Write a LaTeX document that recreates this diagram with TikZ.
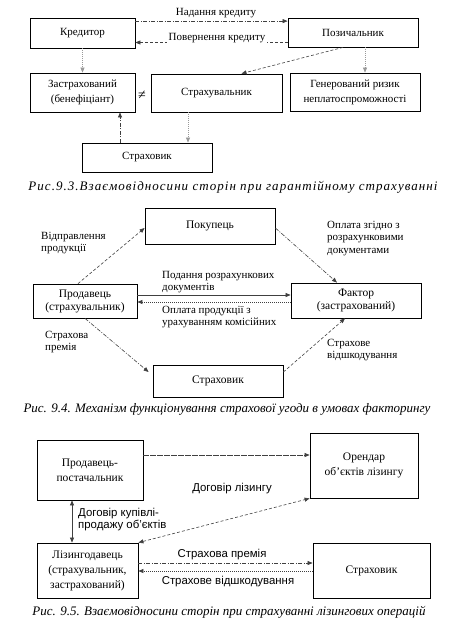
\documentclass[tikz,border=0pt]{standalone}
\usepackage{fontspec}
\setmainfont{Liberation Serif}
\newfontfamily\sansf{Liberation Sans}
\usetikzlibrary{arrows.meta,calc}
\tikzset{
  box/.style={draw=black, line width=0.8pt, align=center, inner sep=0pt, font=\fontsize{11}{15}\selectfont},
  boxb/.style={box, font=\fontsize{11.5}{13}\selectfont},
  boxc/.style={box, font=\fontsize{11.5}{15}\selectfont},
  conn/.style={line width=0.6pt, draw=black!75, -{Triangle[length=5pt,width=4pt]}},
  dconn/.style={conn, {Triangle[length=5pt,width=4pt]}-{Triangle[length=5pt,width=4pt]}},
  dashdotline/.style={dash pattern=on 4pt off 1.5pt on 1pt off 1.5pt},
  dashline/.style={dash pattern=on 3pt off 2pt},
  dotline/.style={dash pattern=on 1pt off 1pt},
  lbl/.style={inner sep=0pt, font=\fontsize{11}{12.5}\selectfont},
  lbll/.style={lbl, align=left, anchor=north west},
  slbl/.style={inner sep=0pt, font=\sansf\fontsize{11.4}{12.5}\selectfont},
  captxt/.style={inner sep=0pt, font=\itshape\fontsize{13}{14}\selectfont},
  captwide/.style={inner sep=0pt, font={\itshape\fontsize{13}{14}\selectfont\addfontfeature{LetterSpace=8}}},
}
\begin{document}
\begin{tikzpicture}[x=1pt,y=-1pt]
\useasboundingbox (0,0) rectangle (450,626);
% ---------------- Fig 9.3
\node[box, minimum width=105pt, minimum height=30pt] (kred) at (82.5,33) {Кредитор};
\node[box, minimum width=130pt, minimum height=29pt] (poz) at (353,32.5) {Позичальник};
\node[box, minimum width=105pt, minimum height=39pt] (zastr) at (82.5,92.5) {Застрахований\\(бенефіціант)};
\node[box, minimum width=131pt, minimum height=38pt] (strv) at (216.5,93) {Страхувальник};
\node[box, minimum width=130pt, minimum height=38pt] (gen) at (355,92) {Генерований ризик\\неплатоспроможності};
\node[box, minimum width=130pt, minimum height=29pt] (strk1) at (147,157.5) {Страховик};
\node[inner sep=0pt, font=\fontsize{14}{14}\selectfont] (ne) at (142,95) {≠};
\coordinate (a1) at ($(kred.north east)+(0,3.5)$);
\draw[conn, dashdotline] (a1) -- (a1 -| poz.west);
\node[lbl] (l1) at (216,13) {Надання кредиту};
\coordinate (a2) at ($(poz.west)+(0,10)$);
\draw[conn, dashline] (a2) -- (a2 -| kred.east);
\node[lbl, fill=white, inner sep=2pt] (l2) at (217,38) {Повернення кредиту};
\coordinate (a3) at ($(kred.south)+(0,0)$);
\draw[conn, dotline, draw=black!40] (a3) -- (a3 |- zastr.north);
\coordinate (a4) at ($(poz.south)+(-10,0)$);
\draw[conn, dashline] (a4) -- ($(strv.north)+(25,0)$);
\coordinate (a5) at ($(poz.south)+(12,0)$);
\draw[conn, dotline, draw=black!40] (a5) -- (a5 |- gen.north);
\coordinate (a6) at ($(zastr.south)+(37.5,0)$);
\draw[conn, dashdotline] (a6 |- strk1.north) -- (a6);
\coordinate (a7) at ($(strk1.north)+(41,0)$);
\draw[conn, dotline, draw=black!40] (a7 |- strv.south) -- (a7);
\node[captwide] (cap1) at (233,187) {Рис.9.3.Взаємовідносини сторін при гарантійному страхуванні};
% ---------------- Fig 9.4
\node[boxb, minimum width=130pt, minimum height=36pt] (pok) at (210,226) {Покупець};
\node[boxb, minimum width=104pt, minimum height=34pt] (prod) at (85,301) {Продавець\\(страхувальник)};
\node[boxb, minimum width=130pt, minimum height=35pt] (fakt) at (356,300.5) {Фактор\\(застрахований)};
\node[boxb, minimum width=130pt, minimum height=32pt] (strk2) at (218,381) {Страховик};
\draw[conn, dashline] ($(prod.north)+(-7,0)$) -- ($(pok.west)+(0,2)$);
\draw[conn, dashdotline] ($(pok.east)+(0,2)$) -- ($(fakt.north)+(-19,0)$);
\coordinate (b1) at ($(prod.east)+(0,-6)$);
\draw[conn] (b1) -- (b1 -| fakt.west);
\coordinate (b2) at ($(fakt.west)+(0,1.5)$);
\draw[conn, dotline] (b2) -- (b2 -| prod.east);
\draw[conn, dashdotline] (prod.south) -- ($(strk2.west)+(-4,-9)$);
\draw[conn, dashline] ($(strk2.east)+(0,-9)$) -- ($(fakt.south)+(-11,0)$);
\node[lbll] (l3) at (41,232) {Відправлення\\продукції};
\node[lbll] (l4) at (327,221) {Оплата згідно з\\розрахунковими\\документами};
\node[lbll] (l5) at (162,271) {Подання розрахункових\\документів};
\node[lbll] (l6) at (162,306) {Оплата продукції з\\урахуванням комісійних};
\node[lbll] (l7) at (45,331) {Страхова\\премія};
\node[lbll] (l8) at (327,339) {Страхове\\відшкодування};
\node[captxt] (cap2) at (227,409) {Рис. 9.4. Механізм функціонування страхової угоди в умовах факторингу};
% ---------------- Fig 9.5
\node[boxc, minimum width=106pt, minimum height=60pt] (pp) at (90,470) {Продавець-\\постачальник};
\node[boxc, minimum width=108pt, minimum height=65pt] (oren) at (364,465.5) {Орендар\\об’єктів лізингу};
\node[boxc, minimum width=101pt, minimum height=55pt] (liz) at (87.5,570.5) {Лізингодавець\\(страхувальник,\\застрахований)};
\node[boxc, minimum width=117pt, minimum height=55pt] (strk3) at (371.5,570.5) {Страховик};
\coordinate (c1) at ($(pp.east)+(0,-15)$);
\draw[conn, dash pattern=on 6pt off 1pt] (c1) -- (c1 -| oren.west);
\coordinate (c2) at ($(pp.south)+(-18,0)$);
\draw[dconn] (c2) -- (c2 |- liz.north);
\draw[dconn, dashline] (liz.north east) -- (oren.south west);
\coordinate (c3) at ($(liz.east)+(0,-7.5)$);
\draw[conn, dashdotline] (c3) -- (c3 -| strk3.west);
\coordinate (c4) at ($(strk3.west)+(0,0.5)$);
\draw[conn, dotline] (c4) -- (c4 -| liz.east);
\node[slbl] (l9) at (232,489) {Договір лізингу};
\node[slbl, align=left, anchor=north west] (l10) at (78,508) {Договір купівлі-\\продажу об’єктів};
\node[slbl] (l11) at (222,555) {Страхова премія};
\node[slbl] (l12) at (228,582) {Страхове відшкодування};
\node[captxt] (cap3) at (229,612) {Рис. 9.5. Взаємовідносини сторін при страхуванні лізингових операцій};
\end{tikzpicture}
\end{document}
